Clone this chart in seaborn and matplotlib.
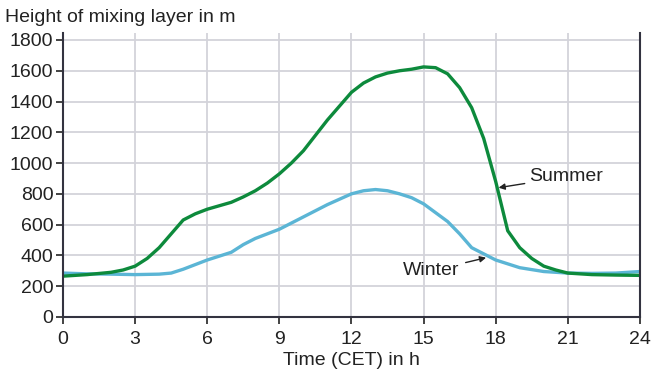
import numpy as np
import pandas as pd
import matplotlib
matplotlib.use("Agg")
import matplotlib.pyplot as plt
import seaborn as sns

summer_h = [0, 1, 2, 2.5, 3, 3.5, 4, 4.5, 5, 5.5, 6, 7, 7.5, 8, 8.5, 9, 9.5, 10, 10.5, 11, 11.5,
            12, 12.5, 13, 13.5, 14, 14.5, 15, 15.5, 16, 16.5, 17, 17.5, 18, 18.5, 19, 19.5, 20,
            20.5, 21, 22, 23, 24]
summer_m = [265, 275, 290, 305, 330, 380, 450, 540, 630, 670, 700, 745, 780, 820, 870, 930, 1000,
            1080, 1180, 1280, 1370, 1460, 1520, 1560, 1585, 1600, 1610, 1625, 1620, 1580, 1490,
            1360, 1160, 880, 560, 450, 380, 330, 305, 285, 275, 272, 270]

winter_h = [0, 1, 2, 3, 4, 4.5, 5, 5.5, 6, 7, 7.5, 8, 9, 10, 11, 12, 12.5, 13, 13.5, 14, 14.5,
            15, 16, 16.5, 17, 17.5, 18, 19, 20, 21, 22, 23, 24]
winter_m = [285, 280, 278, 275, 278, 285, 310, 340, 370, 420, 470, 510, 570, 650, 730, 800, 820,
            828, 820, 800, 775, 735, 620, 540, 450, 410, 370, 320, 295, 285, 283, 285, 295]

x_ticks = [0, 3, 6, 9, 12, 15, 18, 21, 24]
y_ticks = [0, 200, 400, 600, 800, 1000, 1200, 1400, 1600, 1800]

sns.set_style("white")
plt.rcParams['font.family'] = ['Liberation Sans', 'DejaVu Sans']

df = pd.concat([
    pd.DataFrame({"hour": winter_h, "height": winter_m, "season": "Winter"}),
    pd.DataFrame({"hour": summer_h, "height": summer_m, "season": "Summer"}),
])

fig = plt.figure(figsize=(6.51, 3.8), dpi=100)
ax = fig.add_axes([0.0968, 0.166, 0.8862, 0.747])

palette = {"Winter": "#5bb5d5", "Summer": "#0d8a3c"}
sns.lineplot(data=df, x="hour", y="height", hue="season", palette=palette,
             linewidth=2.4, ax=ax, legend=False, sort=True)

fs = 14
ax.set_xlim(0, 24)
ax.set_ylim(0, 1845)
ax.set_xticks(x_ticks)
ax.set_yticks(y_ticks)
ax.tick_params(axis='both', labelsize=fs, colors='#222222', length=5, width=1.2,
               direction='out', left=True, bottom=True)
ax.tick_params(axis='x', pad=5)
ax.tick_params(axis='y', pad=2)
ax.grid(True, color='#d3d3da', linewidth=1.3)
ax.set_axisbelow(True)
for s in ['left', 'bottom', 'right']:
    ax.spines[s].set_color('#333340')
    ax.spines[s].set_linewidth(1.5)
ax.spines['top'].set_visible(False)

ax.set_xlabel("Time (CET) in h", fontsize=fs, color='#222222', labelpad=3)
ax.set_ylabel("")
fig.text(0.008, 0.955, "Height of mixing layer in m", fontsize=fs, color='#222222',
         ha='left', va='center')

ax.annotate("Summer", xy=(18.12, 840), xytext=(19.4, 910), fontsize=fs, color='#222222',
            ha='left', va='center',
            arrowprops=dict(arrowstyle='-|>', color='#222222', lw=1.0, mutation_scale=9,
                            shrinkA=1, shrinkB=0))
ax.annotate("Winter", xy=(17.6, 385), xytext=(16.5, 300), fontsize=fs, color='#222222',
            ha='right', va='center',
            arrowprops=dict(arrowstyle='-|>', color='#222222', lw=1.0, mutation_scale=9,
                            shrinkA=2, shrinkB=0))

fig.savefig("out.png", dpi=100)
